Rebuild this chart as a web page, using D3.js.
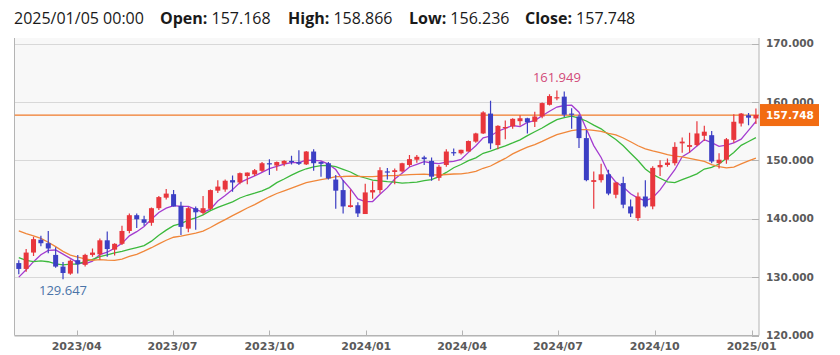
<!DOCTYPE html>
<html><head><meta charset="utf-8">
<script src="https://cdn.jsdelivr.net/npm/d3@7"></script>
<style>html,body{margin:0;padding:0;background:#fff;}svg{display:block}</style>
</head><body>
<svg id="chart" width="840" height="355"></svg>
<script>
// ---- data (weekly candles) ----
const weekDates = [
"2023-02-05","2023-02-12","2023-02-19","2023-02-26","2023-03-05","2023-03-12","2023-03-19","2023-03-26",
"2023-04-02","2023-04-09","2023-04-16","2023-04-23","2023-04-30","2023-05-07","2023-05-14","2023-05-21",
"2023-05-28","2023-06-04","2023-06-11","2023-06-18","2023-06-25","2023-07-02","2023-07-09","2023-07-16",
"2023-07-23","2023-07-30","2023-08-06","2023-08-13","2023-08-20","2023-08-27","2023-09-03","2023-09-10",
"2023-09-17","2023-09-24","2023-10-01","2023-10-08","2023-10-15","2023-10-22","2023-10-29","2023-11-05",
"2023-11-12","2023-11-19","2023-11-26","2023-12-03","2023-12-10","2023-12-17","2023-12-24","2023-12-31",
"2024-01-07","2024-01-14","2024-01-21","2024-01-28","2024-02-04","2024-02-11","2024-02-18","2024-02-25",
"2024-03-03","2024-03-10","2024-03-17","2024-03-24","2024-03-31","2024-04-07","2024-04-14","2024-04-21",
"2024-04-28","2024-05-05","2024-05-12","2024-05-19","2024-05-26","2024-06-02","2024-06-09","2024-06-16",
"2024-06-23","2024-06-30","2024-07-07","2024-07-14","2024-07-21","2024-07-28","2024-08-04","2024-08-11",
"2024-08-18","2024-08-25","2024-09-01","2024-09-08","2024-09-15","2024-09-22","2024-09-29","2024-10-06",
"2024-10-13","2024-10-20","2024-10-27","2024-11-03","2024-11-10","2024-11-17","2024-11-24","2024-12-01",
"2024-12-08","2024-12-15","2024-12-22","2024-12-29","2025-01-05"];

const openPrices = [
132.4,131.4,134.2,136.4,135.8,133.8,131.8,130.6,132.9,132.1,133.8,133.9,136.3,134.7,135.7,137.9,
140.6,139.9,139.3,141.8,143.6,144.2,142.2,138.3,141.8,141.0,141.7,144.8,145.0,146.6,146.2,147.3,
147.6,148.2,149.5,149.1,149.4,149.9,149.7,149.3,151.5,149.7,149.5,146.7,144.9,142.0,142.3,140.8,
144.5,144.9,148.1,148.0,148.1,149.2,150.1,150.5,149.9,147.0,149.2,151.4,151.2,151.5,153.2,154.6,
158.0,152.6,155.6,155.8,156.7,157.2,156.6,157.5,159.5,160.6,160.9,158.0,157.5,153.8,146.3,146.6,
147.6,144.1,146.1,142.1,140.1,143.8,142.1,148.8,149.2,149.5,152.9,152.3,152.6,154.2,154.3,149.5,
150.1,153.5,156.3,157.7,157.168];
const highPrices = [
132.9,134.8,136.9,137.1,137.9,135.1,132.6,133.0,133.8,134.0,134.9,136.6,137.8,135.8,138.8,140.9,
140.9,140.5,141.9,143.9,145.1,144.9,142.9,142.0,142.1,143.9,145.0,146.6,146.7,147.4,147.9,147.9,
148.5,149.7,150.2,149.8,150.0,150.8,151.7,151.6,151.9,149.8,149.7,147.5,146.6,145.0,142.8,146.0,
146.4,148.8,148.7,148.6,149.6,150.9,150.9,150.8,150.5,149.2,151.9,152.0,151.8,153.4,154.7,158.4,
160.2,156.0,156.8,157.2,157.7,157.3,158.3,159.9,161.3,161.949,161.8,158.9,157.8,155.2,148.1,149.4,
148.4,146.2,147.2,143.3,144.5,146.6,149.0,150.0,150.3,153.1,153.9,154.7,156.7,155.9,155.0,151.2,
153.8,157.9,158.1,158.1,158.866];
const lowPrices = [
130.5,130.9,133.6,135.3,134.1,131.6,129.647,130.4,130.6,131.8,133.5,133.0,133.5,133.7,135.5,137.5,
138.4,138.8,138.8,141.5,143.3,142.1,137.2,137.7,138.1,140.7,141.5,144.4,144.6,144.6,145.9,145.9,
147.3,148.0,147.5,148.2,149.0,149.3,149.2,149.2,148.2,147.2,146.7,141.7,140.9,141.9,140.3,140.8,
143.4,144.3,146.7,145.9,147.9,148.9,149.6,149.2,146.5,146.5,148.9,150.8,151.0,151.5,153.0,154.5,
151.9,151.9,153.6,155.4,155.9,154.6,155.7,157.2,159.4,160.3,157.4,155.4,152.1,146.4,141.7,146.2,
144.0,143.5,141.8,140.3,139.6,141.9,141.6,147.3,148.9,149.1,151.3,151.3,152.4,153.3,149.5,148.6,
149.4,153.0,155.8,156.0,156.236];
const closePrices = [
131.4,134.2,136.5,135.8,134.9,131.8,130.7,132.8,132.2,133.8,134.2,136.3,134.8,135.7,137.9,140.6,
139.9,139.3,141.8,143.7,144.3,142.1,138.6,141.8,141.1,141.8,144.9,145.5,146.5,146.2,147.8,147.9,
148.3,149.5,149.3,149.7,149.9,149.7,149.4,151.5,149.5,149.4,146.9,144.8,142.1,142.3,140.9,144.5,
144.9,148.3,148.0,148.3,149.5,150.2,150.6,150.2,147.2,148.9,151.5,151.3,151.8,153.3,154.6,158.2,
152.9,155.9,155.7,157.1,157.2,156.5,157.5,159.8,161.0,160.8,157.8,157.8,153.8,146.6,146.6,147.6,
144.3,146.2,142.4,140.9,143.8,142.1,148.7,149.2,149.6,152.3,153.2,152.6,154.6,154.9,149.8,150.1,
153.6,156.6,158.0,157.3,157.748];
// weekly closes before the first visible candle (feed the moving averages at the left edge)
const priorCloses = [143.4,144.7,145.3,148.7,147.6,147.5,146.6,138.8,140.4,139.2,134.3,136.6,136.7,
132.9,131.1,132.1,127.9,129.6,129.9,131.2];
const maPeriods = [5, 13, 21];
const maColors = ["#a43cd0", "#3cb93c", "#f0873a"];
const priceTicks = [120,130,140,150,160,170];
const headerLabel = {date:"2025/01/05 00:00", open:"157.168", high:"158.866", low:"156.236", close:"157.748"};
const highLabel = "161.949", lowLabel = "129.647";

// ---- layout ----
const svg = d3.select("#chart");
const P = {left:14.5, right:759, top:38, bottom:335.5};
const parse = d3.utcParse("%Y-%m-%d");
const candles = weekDates.map((d,i)=>({date:parse(d),o:openPrices[i],h:highPrices[i],l:lowPrices[i],c:closePrices[i],i}));

const x = d3.scaleUtc().domain([Date.UTC(2023,3,1), Date.UTC(2025,0,1)]).range([76.7, 751.7]);
const y = d3.scaleLinear().domain([120,170]).range([335.5, 43.5]);

svg.append("defs").append("clipPath").attr("id","clip")
  .append("rect").attr("x",P.left).attr("y",P.top).attr("width",P.right-P.left).attr("height",P.bottom-P.top);

svg.append("rect").attr("x",P.left).attr("y",P.top).attr("width",P.right-P.left).attr("height",P.bottom-P.top)
  .attr("fill","#f8f8f8");

// grid
svg.append("g").selectAll("line").data(priceTicks).join("line")
  .attr("x1",P.left).attr("x2",P.right).attr("y1",d=>Math.round(y(d))+0.5).attr("y2",d=>Math.round(y(d))+0.5)
  .attr("stroke","#d8d8d8").attr("stroke-width",1);

// frame (left, bottom, right)
svg.append("path").attr("d",`M${P.left},${P.top}V${P.bottom}H${P.right}V${P.top}`)
  .attr("fill","none").attr("stroke","#b4b4b4").attr("stroke-width",1);

// right axis ticks + labels
const yAxis = svg.append("g");
yAxis.selectAll("line").data(priceTicks).join("line")
  .attr("x1",P.right-7).attr("x2",P.right).attr("y1",d=>Math.round(y(d))+0.5).attr("y2",d=>Math.round(y(d))+0.5)
  .attr("stroke","#b4b4b4");
yAxis.selectAll("text").data(priceTicks).join("text")
  .attr("x",766).attr("y",d=>y(d)).attr("dy","0.36em")
  .attr("font-family","DejaVu Sans").attr("font-weight","bold").attr("font-size",10.5).attr("fill","#5a5a5a")
  .text(d=>d3.format(".3f")(d));

// bottom axis ticks + labels
const xt = x.ticks(d3.utcMonth.every(3));
const xAxis = svg.append("g");
xAxis.selectAll("line").data(xt).join("line")
  .attr("x1",d=>Math.round(x(d))+0.5).attr("x2",d=>Math.round(x(d))+0.5).attr("y1",P.bottom-5).attr("y2",P.bottom)
  .attr("stroke","#b4b4b4");
xAxis.selectAll("text").data(xt).join("text")
  .attr("x",d=>x(d)).attr("y",349.5).attr("text-anchor","middle")
  .attr("font-family","DejaVu Sans").attr("font-weight","bold").attr("font-size",11).attr("fill","#5a5a5a")
  .text(d=>d3.utcFormat("%Y/%m")(d));

const plot = svg.append("g").attr("clip-path","url(#clip)");

// last-price line
const last = candles[candles.length-1];
plot.append("line").attr("x1",P.left).attr("x2",P.right).attr("y1",y(last.c)).attr("y2",y(last.c))
  .attr("stroke","#f07a2a").attr("stroke-width",1.2);

// moving averages
const allCloses = priorCloses.concat(closePrices);
const off = priorCloses.length;
maPeriods.forEach((n,k)=>{
  const vals = candles.map((d,i)=>({date:d.date, v:d3.mean(allCloses.slice(off+i-n+1, off+i+1))}));
  plot.append("path").datum(vals)
    .attr("d", d3.line().x(d=>x(d.date)).y(d=>y(d.v)))
    .attr("fill","none").attr("stroke",maColors[k]).attr("stroke-width",1.3);
});

// candles
const up = "#e8363c", down = "#3c3fc4";
const cw = 5;
const cg = plot.append("g").selectAll("g").data(candles).join("g");
cg.append("line")
  .attr("x1",d=>x(d.date)).attr("x2",d=>x(d.date)).attr("y1",d=>y(d.h)).attr("y2",d=>y(d.l))
  .attr("stroke",d=>d.c>=d.o?up:down).attr("stroke-width",1.2);
cg.append("rect")
  .attr("x",d=>x(d.date)-cw/2).attr("width",cw)
  .attr("y",d=>y(Math.max(d.o,d.c)))
  .attr("height",d=>Math.max(1.2, Math.abs(y(d.o)-y(d.c))))
  .attr("fill",d=>d.c>=d.o?up:down);

// high / low annotations
const hi = candles.reduce((a,b)=>b.h>a.h?b:a), lo = candles.reduce((a,b)=>b.l<a.l?b:a);
svg.append("text").attr("x",x(hi.date)).attr("y",y(hi.h)-9).attr("text-anchor","middle")
  .attr("font-family","Open Sans").attr("font-size",13).attr("fill","#d24a78").text(highLabel);
svg.append("text").attr("x",x(lo.date)).attr("y",y(lo.l)+16).attr("text-anchor","middle")
  .attr("font-family","Open Sans").attr("font-size",13).attr("fill","#4a74a8").text(lowLabel);

// price tag
svg.append("rect").attr("x",760).attr("y",y(last.c)-11).attr("width",59).attr("height",22).attr("fill","#f26c12");
svg.append("text").attr("x",766).attr("y",y(last.c)).attr("dy","0.36em")
  .attr("font-family","DejaVu Sans").attr("font-weight","bold").attr("font-size",10.5).attr("fill","#fff")
  .text(d3.format(".3f")(last.c));

// header
const hdr = svg.append("text").attr("y",24).attr("font-family","Open Sans").attr("font-size",16).attr("fill","#1a1a1a");
hdr.append("tspan").attr("x",14).text(headerLabel.date);
[["Open:",headerLabel.open,160],["High:",headerLabel.high,288],["Low:",headerLabel.low,409],["Close:",headerLabel.close,525]]
 .forEach(([k,v,px])=>{
   hdr.append("tspan").attr("x",px).attr("font-weight","bold").text(k);
   hdr.append("tspan").text(" "+v);
 });
</script>
</body></html>
